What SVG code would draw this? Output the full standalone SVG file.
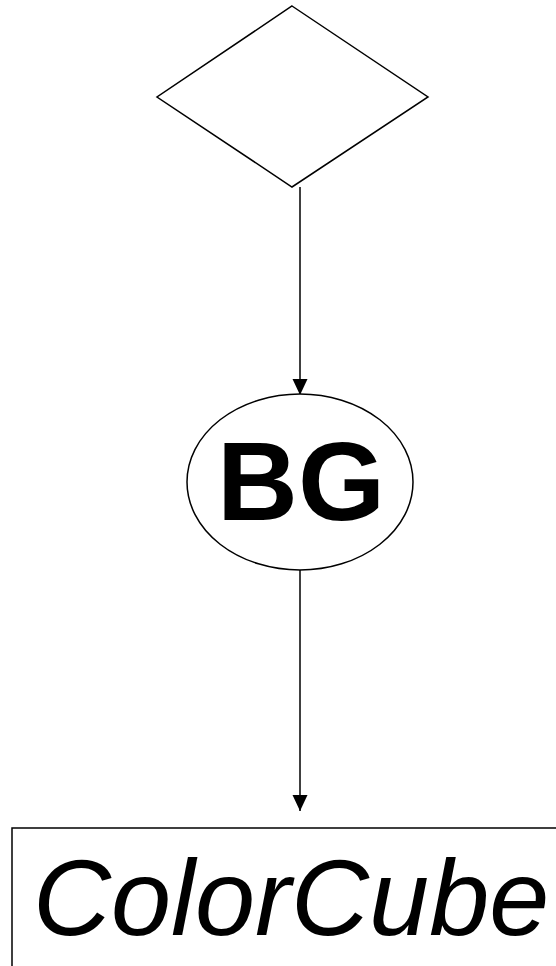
<svg xmlns="http://www.w3.org/2000/svg" width="556" height="966" viewBox="0 0 556 966">
<style>
.shape{fill:#fff;stroke:#000;stroke-width:1.5}
.edge{stroke:#000;stroke-width:1.5;fill:none}
.lbl{font-family:"Liberation Sans",Arial,sans-serif;fill:#000}
</style>
<defs>
<marker id="arr" markerUnits="userSpaceOnUse" markerWidth="16" markerHeight="16" refX="16" refY="8" orient="auto" viewBox="0 0 16 16">
<path d="M0,0.5 L16,8 L0,15.5 Z" fill="#000"/>
</marker>
</defs>
<rect width="556" height="966" fill="#fff"/>
<g id="connectors">
<line class="edge" x1="300" y1="187" x2="300" y2="395" marker-end="url(#arr)"/>
<line class="edge" x1="300" y1="570" x2="300" y2="811" marker-end="url(#arr)"/>
</g>
<g id="decision">
<polygon class="shape" points="292,6 428,97 292,187 157,97"/>
</g>
<g id="bg">
<ellipse class="shape" cx="300" cy="482" rx="113" ry="88"/>
<text class="lbl" x="301" y="520" font-size="112" font-weight="bold" text-anchor="middle">BG</text>
</g>
<g id="colorcube">
<rect class="shape" x="12" y="828" width="560" height="160"/>
<text class="lbl" x="33" y="935" font-size="108" font-style="italic">ColorCube</text>
</g>
</svg>
